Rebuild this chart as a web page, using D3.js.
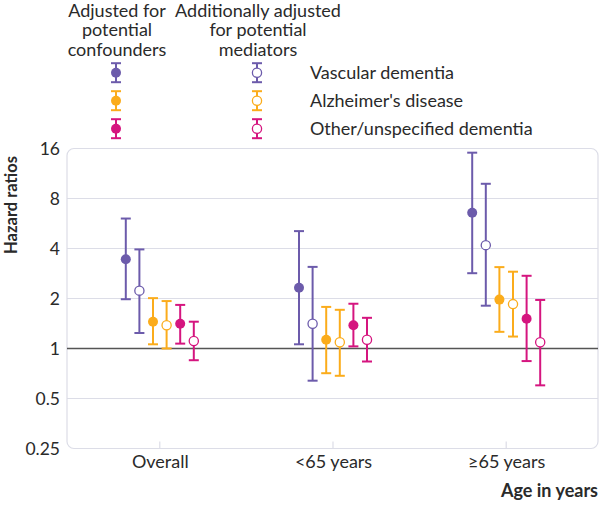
<!DOCTYPE html>
<html><head><meta charset="utf-8">
<script src="https://cdn.jsdelivr.net/npm/d3@7"></script>
<style>body{margin:0;background:#fff}svg{display:block;font-family:Lato,sans-serif}</style>
</head><body><svg id="c" width="602" height="511"></svg>
<script>
const categories = ["Overall", "<65 years", "\u226565 years"];
const yTicks = [0.25, 0.5, 1, 2, 4, 8, 16];
const outcomes = ["Vascular dementia", "Alzheimer's disease", "Other/unspecified dementia"];
const adjustments = ["Adjusted for|potential|confounders", "Additionally adjusted|for potential|mediators"];
const colors = ["#6c5bab", "#fbac1b", "#d5157f"];

// estimates and 95% CI per series, one value per category
const vascConfEst = [3.45, 2.32, 6.56], vascConfLo = [1.98, 1.06, 2.84], vascConfHi = [6.06, 5.09, 15.1];
const vascMedEst  = [2.23, 1.41, 4.19], vascMedLo  = [1.24, 0.64, 1.81], vascMedHi  = [3.95, 3.10, 9.81];
const alzConfEst  = [1.45, 1.13, 1.97], alzConfLo  = [1.06, 0.71, 1.26], alzConfHi  = [2.01, 1.78, 3.09];
const alzMedEst   = [1.38, 1.09, 1.85], alzMedLo   = [1.00, 0.685, 1.18], alzMedHi  = [1.93, 1.71, 2.90];
const othConfEst  = [1.41, 1.38, 1.51], othConfLo  = [1.07, 1.03, 0.84], othConfHi  = [1.83, 1.86, 2.74];
const othMedEst   = [1.11, 1.13, 1.09], othMedLo   = [0.85, 0.835, 0.60], othMedHi  = [1.45, 1.53, 1.96];

const series = [
  {o:0, filled:true,  est:vascConfEst, lo:vascConfLo, hi:vascConfHi},
  {o:0, filled:false, est:vascMedEst,  lo:vascMedLo,  hi:vascMedHi},
  {o:1, filled:true,  est:alzConfEst,  lo:alzConfLo,  hi:alzConfHi},
  {o:1, filled:false, est:alzMedEst,   lo:alzMedLo,   hi:alzMedHi},
  {o:2, filled:true,  est:othConfEst,  lo:othConfLo,  hi:othConfHi},
  {o:2, filled:false, est:othMedEst,   lo:othMedLo,   hi:othMedHi}
];

const svg = d3.select("#c");
const L = 67, R = 598, T = 148.5, B = 448.5;
const x = d3.scalePoint().domain(categories).range([68, 598]).padding(0.53);
const xo = d3.scalePoint().domain(d3.range(series.length)).range([-34, 34]);
const y = d3.scaleLog().base(2).domain([0.25, 16]).range([B, T]);
const textCol = "#2a2a2a";

// gridlines
svg.append("g").selectAll("line").data(yTicks.filter(t => t !== 1 && t !== 16 && t !== 0.25)).join("line")
  .attr("x1", L).attr("x2", R).attr("y1", d => y(d)).attr("y2", d => y(d))
  .attr("stroke", "#dcdde7").attr("stroke-width", 1.2);
// plot border
svg.append("rect").attr("x", L).attr("y", T).attr("width", R - L).attr("height", B - T)
  .attr("rx", 7).attr("fill", "none").attr("stroke", "#dcdde7").attr("stroke-width", 1.2);
// category ticks
svg.append("g").selectAll("line").data(categories).join("line")
  .attr("x1", d => x(d)).attr("x2", d => x(d)).attr("y1", B - 7).attr("y2", B)
  .attr("stroke", "#dcdde7").attr("stroke-width", 1.2);
// reference line
svg.append("line").attr("x1", L).attr("x2", R).attr("y1", y(1)).attr("y2", y(1))
  .attr("stroke", "#555").attr("stroke-width", 1.5);

// y axis
const yAxis = svg.append("g").attr("transform", `translate(${L - 4},0)`)
  .call(d3.axisLeft(y).tickValues(yTicks).tickSize(0).tickPadding(3).tickFormat(d => String(d)));
yAxis.select(".domain").remove();
yAxis.selectAll("text").attr("font-size", 17.5).attr("fill", textCol).attr("font-family", "Lato, sans-serif");

// x axis
const xAxis = svg.append("g").attr("transform", `translate(0,${B})`)
  .call(d3.axisBottom(x).tickSize(0).tickPadding(7));
xAxis.select(".domain").remove();
xAxis.selectAll("text").attr("font-size", 18).attr("fill", textCol).attr("font-family", "Lato, sans-serif");

// axis titles
svg.append("text").attr("transform", "translate(17,205) rotate(-90)").attr("text-anchor", "middle")
  .attr("font-size", 16.5).attr("font-weight", "bold").attr("fill", textCol).text("Hazard ratios");
svg.append("text").attr("x", 598).attr("y", 497).attr("text-anchor", "end")
  .attr("font-size", 18).attr("font-weight", "bold").attr("fill", textCol).text("Age in years");

function drawMark(g, cx, cy, ylo, yhi, color, filled) {
  g.append("line").attr("x1", cx).attr("x2", cx).attr("y1", ylo).attr("y2", yhi)
    .attr("stroke", color).attr("stroke-width", 2);
  [ylo, yhi].forEach(v => g.append("line").attr("x1", cx - 5).attr("x2", cx + 5).attr("y1", v).attr("y2", v)
    .attr("stroke", color).attr("stroke-width", 2));
  if (filled) g.append("circle").attr("cx", cx).attr("cy", cy).attr("r", 5).attr("fill", color);
  else g.append("circle").attr("cx", cx).attr("cy", cy).attr("r", 4.6).attr("fill", "#fff")
    .attr("stroke", color).attr("stroke-width", 1.3);
}

// marks
const marks = svg.append("g");
series.forEach((s, i) => {
  categories.forEach((c, j) => {
    drawMark(marks, x(c) + xo(i), y(s.est[j]), y(s.lo[j]), y(s.hi[j]), colors[s.o], s.filled);
  });
});

// legend
const lg = svg.append("g");
const headX = [117, 258];
adjustments.forEach((a, k) => {
  const t = lg.append("text").attr("text-anchor", "middle").attr("font-size", 18).attr("fill", textCol);
  a.split("|").forEach((line, li) => t.append("tspan").attr("x", headX[k]).attr("y", 17 + li * 19.3).text(line));
});
outcomes.forEach((o, r) => {
  const cy = 72.7 + r * 28;
  drawMark(lg, 116, cy, cy + 9.5, cy - 9.5, colors[r], true);
  drawMark(lg, 257, cy, cy + 9.5, cy - 9.5, colors[r], false);
  lg.append("text").attr("x", 310).attr("y", cy + 6.5).attr("font-size", 18).attr("fill", textCol).text(o);
});
</script></body></html>
